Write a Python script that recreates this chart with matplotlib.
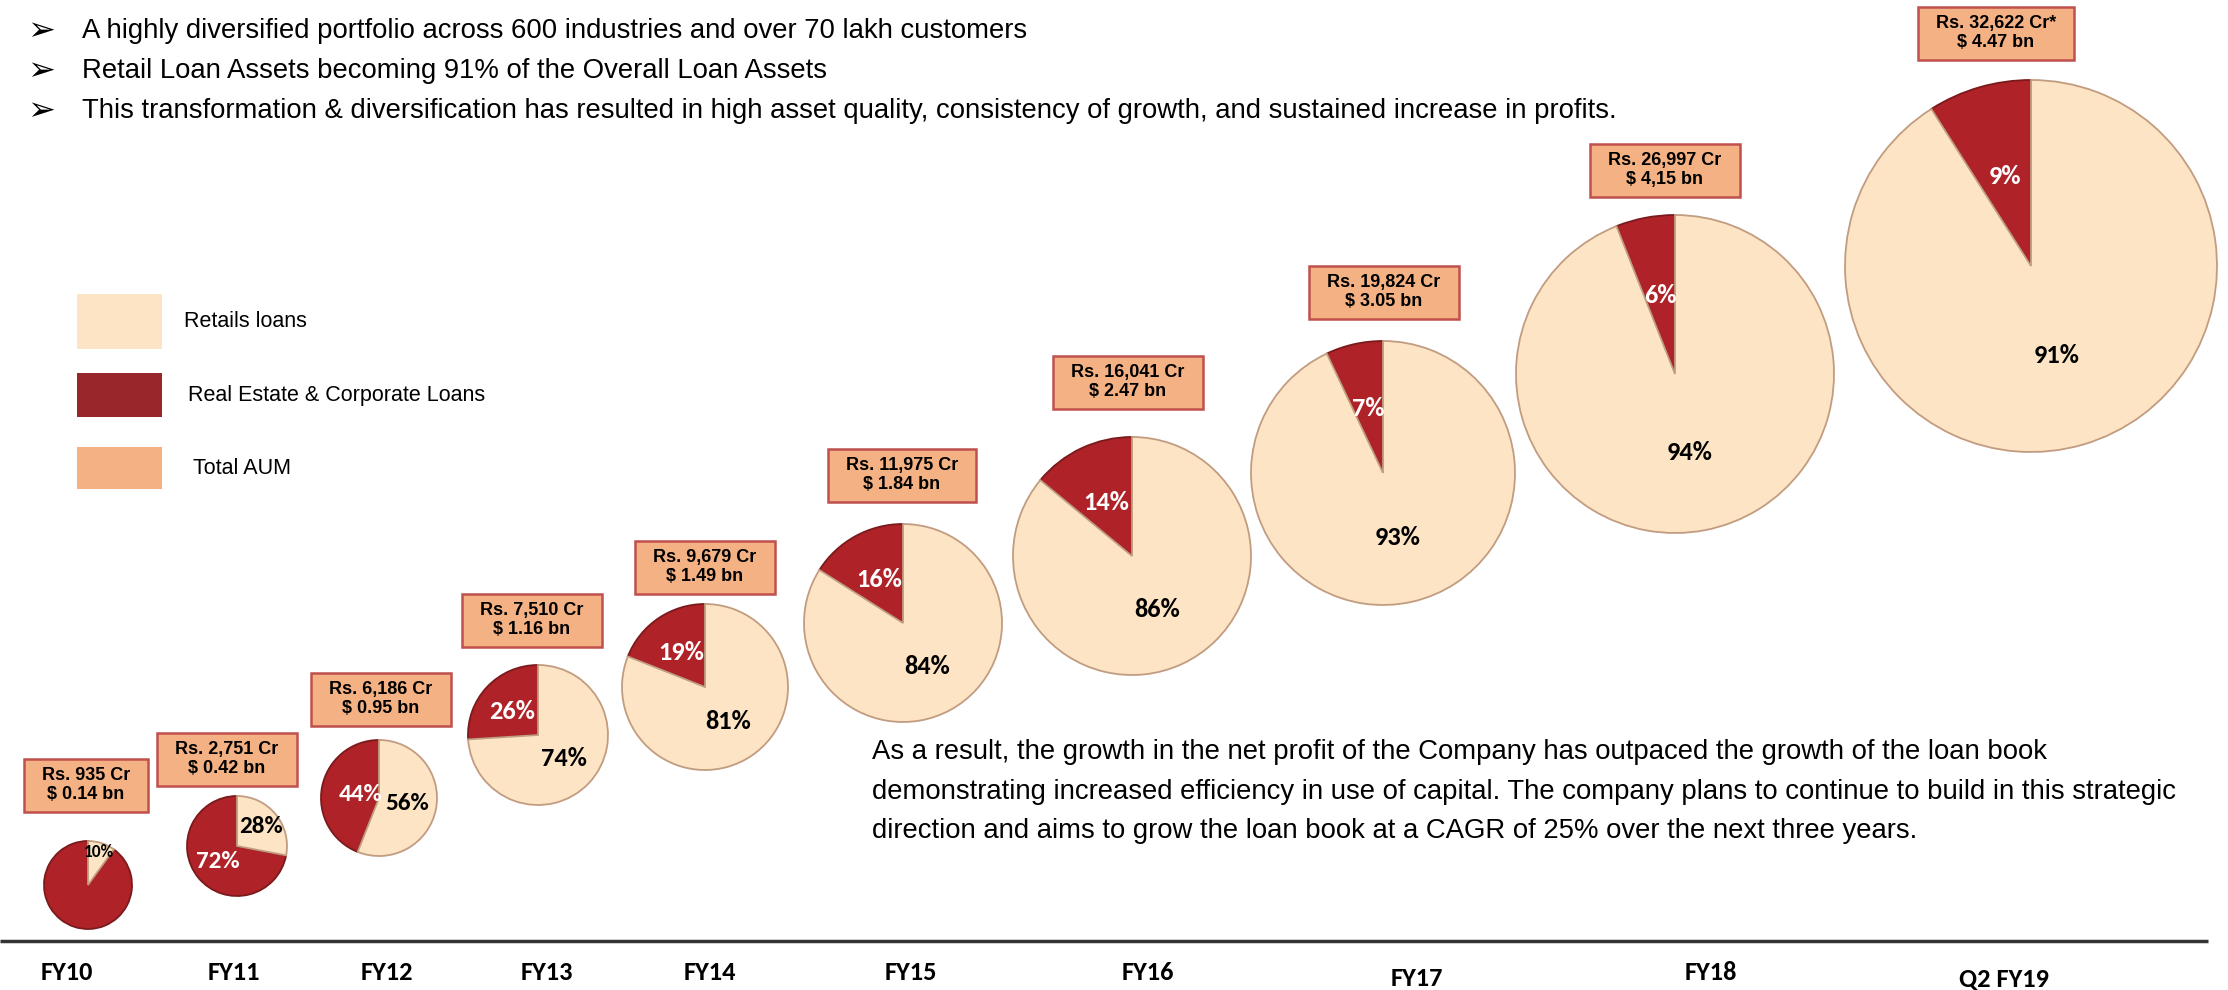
import matplotlib
matplotlib.use('Agg')
import numpy as np
import matplotlib.pyplot as plt
from matplotlib import font_manager
from matplotlib.patches import Rectangle

# ---------------- data ----------------
periods = ['FY10', 'FY11', 'FY12', 'FY13', 'FY14', 'FY15', 'FY16', 'FY17', 'FY18', 'Q2 FY19']
retail_pct = [10, 28, 56, 74, 81, 84, 86, 93, 94, 91]
corporate_pct = [90, 72, 44, 26, 19, 16, 14, 7, 6, 9]
aum_rs = ['Rs. 935 Cr', 'Rs. 2,751 Cr', 'Rs. 6,186 Cr', 'Rs. 7,510 Cr', 'Rs. 9,679 Cr',
          'Rs. 11,975 Cr', 'Rs. 16,041 Cr', 'Rs. 19,824 Cr', 'Rs. 26,997 Cr', 'Rs. 32,622 Cr*']
aum_usd = ['$ 0.14 bn', '$ 0.42 bn', '$ 0.95 bn', '$ 1.16 bn', '$ 1.49 bn',
           '$ 1.84 bn', '$ 2.47 bn', '$ 3.05 bn', '$ 4,15 bn', '$ 4.47 bn']
legend_labels = ['Retails loans', 'Real Estate & Corporate Loans', 'Total AUM']
bullets = ['A highly diversified portfolio across 600 industries and over 70 lakh customers',
           'Retail Loan Assets becoming 91% of the Overall Loan Assets',
           'This transformation & diversification has resulted in high asset quality, '
           'consistency of growth, and sustained increase in profits.']
paragraph = ['As a result, the growth in the net profit of the Company has outpaced the growth of the loan book',
             'demonstrating increased efficiency in use of capital. The company plans to continue to build in this strategic',
             'direction and aims to grow the loan book at a CAGR of 25% over the next three years.']

# ---------------- layout (pixels, y from top) ----------------
W, H = 2228, 990
pie_cx = [88, 237, 379, 538, 705, 903, 1132, 1383, 1675, 2031]
pie_cy = [885, 846, 798, 735, 687, 623, 556, 473, 374, 266]
pie_r = [44, 50, 58, 70, 83, 99, 119, 132, 159, 186]
box_cx = [86, 227, 381, 532, 705, 902, 1128, 1384, 1665, 1996]
box_cy = [785, 759, 699, 620, 567, 475, 382, 292, 170, 33]
lab_x = [67, 234, 387, 547, 710, 911, 1148, 1417, 1711, 2004]
lab_y = [972, 972, 972, 972, 972, 972, 972, 978, 972, 980]

C_RETAIL = '#FDE4C4'
C_CORP = '#AF2228'
C_CORP_LEG = '#98262A'
C_AUM = '#F4B183'
C_AUM_EDGE = '#C0504D'

names = {f.name for f in font_manager.fontManager.ttflist}
NARROW = 'Liberation Sans Narrow' if 'Liberation Sans Narrow' in names else None
SANS = 'Liberation Sans'
BOLDF = 'Carlito' if 'Carlito' in names else 'Lato'
if NARROW:
    body_font, body_size, box_font, box_size = NARROW, 24.0, NARROW, 15.4
else:
    body_font, body_size, box_font, box_size = SANS, 19.8, SANS, 13

fig = plt.figure(figsize=(W / 100, H / 100), dpi=100)
ax = fig.add_axes([0, 0, 1, 1])


def Y(y):
    return H - y


box_texts = []
for i in range(len(periods)):
    wedges, _ = ax.pie([corporate_pct[i], retail_pct[i]], colors=[C_CORP, C_RETAIL],
                       startangle=90, counterclock=True,
                       center=(pie_cx[i], Y(pie_cy[i])), radius=pie_r[i],
                       wedgeprops=dict(linewidth=1.3))
    wedges[0].set_edgecolor('#7A1A1C')
    wedges[1].set_edgecolor('#C29C80')
    for k, (w, val) in enumerate(zip(wedges, [corporate_pct[i], retail_pct[i]])):
        if i == 0 and k == 0:
            continue
        mid = np.deg2rad((w.theta1 + w.theta2) / 2)
        d = 0.5
        size = 19
        if i == 0:
            d, size = 0.8, 12.5
        if i == 2 and k == 0:
            d = 0.32
        if i == 1 and k == 1:
            d = 0.62
        if i in (1, 2):
            size = 18
        tx = pie_cx[i] + d * pie_r[i] * np.cos(mid)
        ty = Y(pie_cy[i]) + d * pie_r[i] * np.sin(mid)
        col = 'white' if k == 0 else 'black'
        ax.text(tx, ty, f'{val}%', ha='center', va='center', color=col,
                fontsize=size, fontweight='bold', family=BOLDF, zorder=5)
    t = ax.text(box_cx[i], Y(box_cy[i]), aum_rs[i] + '\n' + aum_usd[i], ha='center', va='center',
                fontsize=box_size, fontweight='bold', family=box_font, linespacing=1.15, zorder=6)
    box_texts.append(t)
    ax.text(lab_x[i], Y(lab_y[i]), periods[i], ha='center', va='center',
            fontsize=19, fontweight='bold', family=BOLDF)

# baseline
ax.plot([0, 2208], [Y(941), Y(941)], color='#333333', lw=2.5, solid_capstyle='butt')

# legend
leg_cols = [C_RETAIL, C_CORP_LEG, C_AUM]
leg_y0 = [294, 373, 447]
leg_y1 = [349, 417, 489]
leg_tx = [184, 188, 193]
for c, y0, y1, tx, lab in zip(leg_cols, leg_y0, leg_y1, leg_tx, legend_labels):
    ax.add_patch(Rectangle((77, Y(y1)), 85, y1 - y0, fc=c, ec='none'))
    ax.text(tx, Y((y0 + y1) / 2), lab, ha='left', va='center', fontsize=15.5, family=SANS)

# bullets
for t, yy in zip(bullets, [31, 71, 111]):
    ax.text(41, Y(yy), '\u27a2', ha='center', va='center', fontsize=24, family='DejaVu Sans')
    ax.text(82, Y(yy), t, ha='left', va='center', fontsize=body_size, family=body_font)

for t, yy in zip(paragraph, [752, 792, 831]):
    ax.text(872, Y(yy), t, ha='left', va='center', fontsize=body_size, family=body_font)

ax.set_xlim(0, W)
ax.set_ylim(0, H)
ax.set_aspect('equal')
ax.axis('off')

# AUM boxes sized around their text
fig.canvas.draw()
renderer = fig.canvas.get_renderer()
inv = ax.transData.inverted()
for t in box_texts:
    bb = t.get_window_extent(renderer).transformed(inv)
    padx = 18
    hgt = 53
    cx = (bb.x0 + bb.x1) / 2
    cy = (bb.y0 + bb.y1) / 2
    wid = bb.width + 2 * padx
    ax.add_patch(Rectangle((cx - wid / 2, cy - hgt / 2), wid, hgt, fc=C_AUM, ec=C_AUM_EDGE,
                           lw=1.8, zorder=5))

fig.savefig('out.png', dpi=100, facecolor='white')
